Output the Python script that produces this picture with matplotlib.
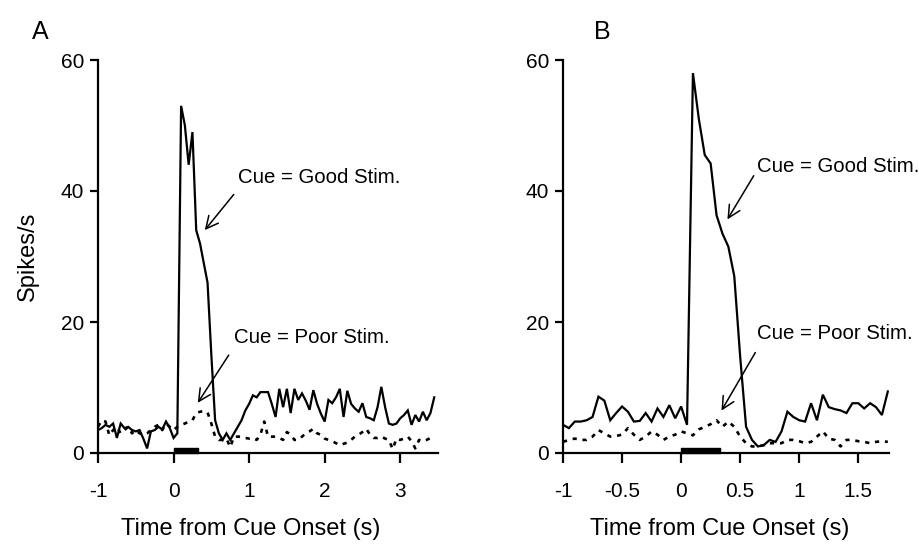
import matplotlib
matplotlib.use('Agg')
import matplotlib.pyplot as plt
import numpy as np

plt.rcParams['font.family'] = ['Liberation Sans', 'DejaVu Sans']

# time bins (s), 50 ms
t_a = np.round(np.arange(-1.0, 3.46, 0.05), 2)
t_b = np.round(np.arange(-1.0, 1.76, 0.05), 2)

# panel A, spikes/s
good_a = [3.5, 3.8, 4.3, 4.0, 4.5, 2.3, 4.5, 3.8, 4.0, 3.5,
          3.3, 3.5, 2.2, 0.7, 3.3, 3.5, 4.0, 3.6, 4.8, 3.8,
          2.3, 3.0, 53.0, 50.0, 44.0, 49.0, 34.0, 32.0, 29.0, 26.0,
          15.0, 5.0, 3.0, 2.0, 3.0, 2.0, 3.0, 4.0, 5.0, 6.5,
          7.5, 8.8, 8.5, 9.3, 9.3, 9.3, 7.5, 5.5, 9.8, 7.0,
          9.8, 6.1, 9.8, 8.1, 9.1, 8.0, 6.6, 9.6, 7.5, 6.0,
          4.8, 8.1, 7.6, 8.5, 9.8, 5.5, 9.5, 7.5, 6.8, 6.3,
          7.6, 5.5, 5.3, 5.0, 7.0, 10.1, 7.0, 4.5, 4.3, 4.5,
          5.3, 5.8, 6.5, 4.3, 5.8, 4.8, 6.3, 5.0, 6.1, 8.5]
poor_a = [4.0, 5.0, 4.8, 2.7, 3.5, 4.0, 3.0, 3.5, 4.0, 3.0,
          3.5, 3.0, 2.8, 3.0, 3.5, 4.0, 4.3, 3.5, 4.5, 4.0,
          3.5, 4.0, 4.3, 4.5, 4.8, 5.0, 6.1, 6.3, 6.4, 6.2,
          4.5, 2.5, 2.0, 2.0, 2.2, 0.9, 2.5, 2.5, 2.5, 2.3,
          2.2, 2.3, 2.0, 2.8, 4.8, 2.5, 2.5, 2.5, 2.3, 2.0,
          3.2, 2.8, 2.0, 2.0, 2.5, 3.0, 3.3, 3.7, 3.0, 2.8,
          2.2, 2.0, 1.8, 1.5, 1.2, 1.4, 1.6, 2.0, 2.5, 2.8,
          3.2, 3.7, 2.8, 2.3, 2.3, 2.5, 2.2, 2.0, 0.6, 2.2,
          2.0, 2.2, 2.5, 1.8, 0.7, 2.0, 1.8, 2.0, 2.3, 2.6]

# panel B, spikes/s
good_b = [4.3, 3.8, 4.8, 4.8, 5.0, 5.5, 8.6, 8.0, 5.0, 6.1,
          7.1, 6.3, 4.8, 4.9, 6.1, 4.8, 6.8, 5.5, 7.3, 5.3,
          7.1, 4.3, 58.0, 51.0, 45.5, 44.2, 36.3, 33.5, 31.5, 27.0,
          14.7, 4.0, 2.0, 1.0, 1.2, 2.0, 1.7, 3.3, 6.3, 5.5,
          5.0, 4.8, 7.6, 5.0, 8.9, 7.0, 6.7, 6.5, 6.1, 7.6,
          7.6, 6.8, 7.6, 7.0, 5.8, 9.4]
poor_b = [1.7, 2.0, 2.2, 2.0, 2.0, 2.5, 3.5, 3.0, 2.5, 2.6,
          2.8, 3.8, 2.8, 2.0, 2.5, 3.3, 2.8, 2.0, 2.5, 2.8,
          3.3, 3.0, 2.7, 3.6, 4.0, 4.4, 5.0, 4.0, 4.8, 4.0,
          2.5, 1.5, 1.0, 1.0, 1.2, 1.5, 1.5, 1.5, 2.0, 2.0,
          1.8, 1.5, 1.7, 2.5, 3.3, 2.2, 2.0, 1.0, 2.0, 2.0,
          1.8, 1.7, 1.5, 1.7, 1.8, 1.7]

cue_on, cue_len = 0.0, 0.33

fig = plt.figure(figsize=(9.2, 5.51), dpi=100)
ax_a = fig.add_axes([98 / 920, 98 / 551, 340 / 920, 393 / 551])
ax_b = fig.add_axes([563 / 920, 98 / 551, 326 / 920, 393 / 551])


def style(ax, xlim, xticks, xticklabels):
    ax.set_xlim(*xlim)
    ax.set_ylim(0, 60)
    ax.set_xticks(xticks)
    ax.set_xticklabels(xticklabels)
    ax.set_yticks([0, 20, 40, 60])
    for s in ['top', 'right']:
        ax.spines[s].set_visible(False)
    for s in ['left', 'bottom']:
        ax.spines[s].set_linewidth(1.6)
    ax.tick_params(axis='x', direction='out', length=7, width=1.6, pad=14, labelsize=15)
    ax.tick_params(axis='y', direction='out', length=6, width=1.6, pad=4, labelsize=15)
    ax.broken_barh([(cue_on, cue_len)], (0, 0.8), color='black', clip_on=False)
    ax.set_xlabel('Time from Cue Onset (s)', fontsize=17)


ax_a.plot(t_a, good_a, color='black', lw=1.6, solid_joinstyle='miter')
ax_a.plot(t_a, poor_a, color='black', lw=1.9, linestyle=(0, (1.6, 2.2)))
style(ax_a, (-1, 3.5), [-1, 0, 1, 2, 3], ['-1', '0', '1', '2', '3'])
ax_a.xaxis.set_label_coords(0.45, -0.165)
ax_a.set_ylabel('Spikes/s', fontsize=17)
ax_a.yaxis.set_label_coords(-0.175, 0.5)

ax_b.plot(t_b, good_b, color='black', lw=1.6, solid_joinstyle='miter')
ax_b.plot(t_b, poor_b, color='black', lw=1.9, linestyle=(0, (1.6, 2.2)))
style(ax_b, (-1, 1.76), [-1, -0.5, 0, 0.5, 1, 1.5], ['-1', '-0.5', '0', '0.5', '1', '1.5'])
ax_b.xaxis.set_label_coords(0.48, -0.165)

arrow = dict(arrowstyle='->', lw=1.1, color='black', mutation_scale=22)
fs_note = 14.7
ax_a.annotate('Cue = Good Stim.', xy=(0.39, 33.7), xytext=(0.85, 42.1),
              fontsize=fs_note, va='center', ha='left')
ax_a.annotate('', xy=(0.39, 33.7), xytext=(0.82, 39.8), arrowprops=arrow)
ax_a.annotate('Cue = Poor Stim.', xy=(0.3, 7.3), xytext=(0.8, 17.7),
              fontsize=fs_note, va='center', ha='left')
ax_a.annotate('', xy=(0.3, 7.3), xytext=(0.75, 15.3), arrowprops=arrow)

ax_b.annotate('Cue = Good Stim.', xy=(0.38, 35.3), xytext=(0.645, 43.8),
              fontsize=fs_note, va='center', ha='left', annotation_clip=False)
ax_b.annotate('', xy=(0.38, 35.3), xytext=(0.627, 42.7), arrowprops=arrow)
ax_b.annotate('Cue = Poor Stim.', xy=(0.33, 6.1), xytext=(0.645, 18.2),
              fontsize=fs_note, va='center', ha='left', annotation_clip=False)
ax_b.annotate('', xy=(0.33, 6.1), xytext=(0.64, 15.7), arrowprops=arrow)

fig.text(40 / 920, 1 - 32 / 551, 'A', fontsize=18, ha='center', va='center')
fig.text(602 / 920, 1 - 32 / 551, 'B', fontsize=18, ha='center', va='center')

fig.savefig('out.png', dpi=100)
